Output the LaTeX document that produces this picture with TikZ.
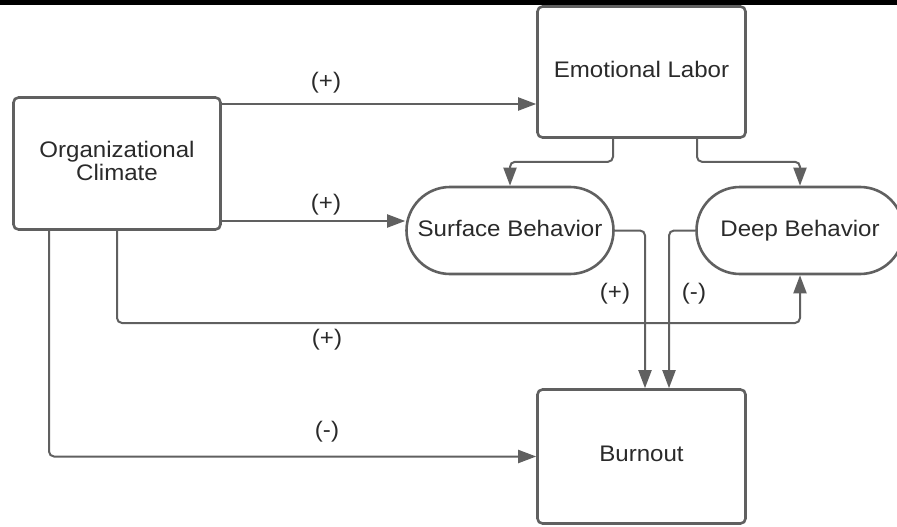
\documentclass[tikz,border=0pt]{standalone}
\usepackage{fontspec}
\setmainfont{Liberation Sans}[FakeStretch=1.07]
\usetikzlibrary{shapes.misc,arrows.meta}
\definecolor{linegray}{HTML}{606060}
\definecolor{textgray}{HTML}{2A2A2A}
\begin{document}
\begin{tikzpicture}[x=1pt,y=-1pt,
  box/.style={draw=linegray, line width=2.6pt, rounded corners=5pt, fill=white,
    text=textgray, align=center, inner sep=0pt, text depth=5pt,
    font=\fontsize{22.5}{23}\selectfont},
  pill/.style={draw=linegray, line width=2.6pt, rounded rectangle, fill=white,
    text=textgray, inner sep=0pt, minimum width=207pt, minimum height=87pt,
    text depth=5pt, font=\fontsize{22.5}{23}\selectfont},
  conn/.style={draw=linegray, line width=2pt, rounded corners=5pt,
    -{Triangle[length=18pt,width=13pt]}},
  lbl/.style={text=textgray, inner sep=0pt, font=\fontsize{22.5}{23}\selectfont}]
\useasboundingbox (0,0) rectangle (897,527);
\fill[black] (0,0) rectangle (897,5);
% nodes
\node[box, minimum width=207pt, minimum height=132pt] (org) at (117,163.5) {Organizational\\Climate};
\node[box, minimum width=208pt, minimum height=131pt] (el) at (641.5,72) {Emotional Labor};
\node[box, minimum width=208pt, minimum height=134pt] (bo) at (641.5,456.5) {Burnout};
\node[pill] (sb) at (510,230.5) {Surface Behavior};
\node[pill] (db) at (800,230.5) {Deep Behavior};
% connectors
\draw[conn] (org.east |- 0,104) -- (el.west |- 0,104);
\draw[conn] (org.east |- 0,221) -- (sb.west |- 0,221);
\draw[conn] (el.south -| 613,0) -- ++(0,23) -| (sb.north);
\draw[conn] (el.south -| 697,0) -- ++(0,23) -| (db.north);
\draw[conn] (sb.east) -| (bo.north -| 645,0);
\draw[conn] (db.west) -| (bo.north -| 669,0);
\draw[conn] (org.south -| 117,0) |- (db.south |- 0,323) -- (db.south);
\draw[conn] (org.south -| 49,0) |- (bo.west);
% labels
\node[lbl] (l1) at (326,83) {(+)};
\node[lbl] (l2) at (326,205) {(+)};
\node[lbl] (l3) at (327,340) {(+)};
\node[lbl] (l4) at (327,432) {(-)};
\node[lbl] (l5) at (615,294) {(+)};
\node[lbl] (l6) at (694,294) {(-)};
\end{tikzpicture}
\end{document}
